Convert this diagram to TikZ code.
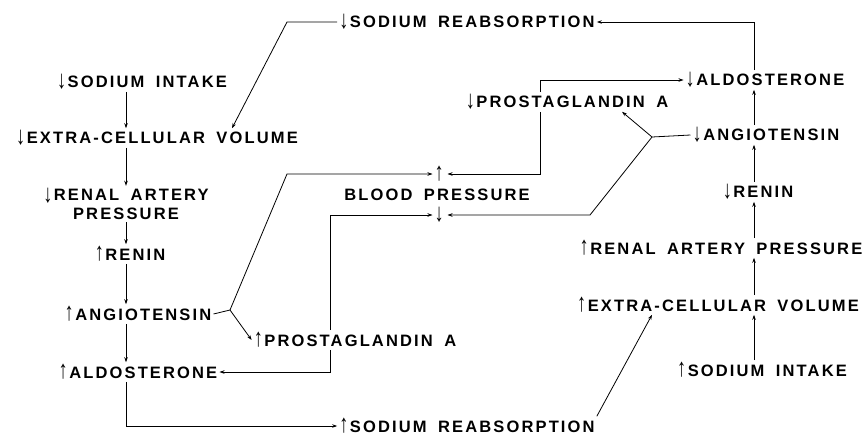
\documentclass[tikz,border=0pt]{standalone}
\usepackage{fontspec}
\usepackage{graphicx}
\setmainfont{Liberation Sans}[LetterSpace=13,WordSpace=1.7]
\usetikzlibrary{arrows.meta}
\newcommand{\upa}{\raisebox{-0.5pt}{\scalebox{1.1}[1.55]{↑}}\kern1.5pt}
\newcommand{\dna}{\raisebox{-1.5pt}{\scalebox{1.1}[1.55]{↓}}\kern1.5pt}

\begin{document}
\begin{tikzpicture}[x=1pt,y=-1pt,>={Stealth[length=5pt,width=3.5pt]},
  every node/.style={font=\bfseries\fontsize{16.5}{19}\selectfont,inner sep=2pt},
  link/.style={->,line width=0.8pt},
  wire/.style={line width=0.8pt}]
\fill[white] (0,0) rectangle (868,437);
\useasboundingbox (0,0) rectangle (868,437);
% columns and bends
\coordinate (colL) at (126,0);
\coordinate (colR) at (754,0);
\coordinate (tapL) at (330,0);
\coordinate (tapR) at (540,0);
\coordinate (hitL) at (232,0);
\coordinate (hitP) at (622,0);
\coordinate (hitE) at (652,0);
\coordinate (kneeT) at (287,22);
\coordinate (forkL) at (230,310);
\coordinate (kneeL) at (287,174);
\coordinate (forkR) at (652,137);
\coordinate (kneeR) at (590,215);

% low sodium side
\node (sodinL) at (142,82) {\dna SODIUM INTAKE};
\node (ecvL) at (157,138) {\dna EXTRA-CELLULAR VOLUME};
\node[align=center] (renalL) at (126,204) {\dna RENAL ARTERY\\PRESSURE};
\node (reninL) at (130,254) {\upa RENIN};
\node (angL) at (138,314) {\upa ANGIOTENSIN};
\node (aldoL) at (138,372) {\upa ALDOSTERONE};
\node (prostL) at (355,340) {\upa PROSTAGLANDIN A};
\node (reabsB) at (467,426) {\upa SODIUM REABSORPTION};

% middle
\node (bp) at (437,195) {BLOOD PRESSURE};
\node (bpUp) at (440,174) {\upa};
\node (bpDown) at (440,215) {\dna};

% high sodium side
\node (reabsT) at (467,22) {\dna SODIUM REABSORPTION};
\node (prostR) at (567,102) {\dna PROSTAGLANDIN A};
\node (aldoR) at (765,80) {\dna ALDOSTERONE};
\node (angR) at (766,135) {\dna ANGIOTENSIN};
\node (reninR) at (758,192) {\dna RENIN};
\node (renalR) at (721,248) {\upa RENAL ARTERY PRESSURE};
\node (ecvR) at (718,305) {\upa EXTRA-CELLULAR VOLUME};
\node (sodinR) at (762,370) {\upa SODIUM INTAKE};

% left chain
\draw[link] (sodinL.south -| colL) -- (ecvL.north -| colL);
\draw[link] (ecvL.south -| colL) -- (renalL.north -| colL);
\draw[link] (renalL.south -| colL) -- (reninL.north -| colL);
\draw[link] (reninL.south -| colL) -- (angL.north -| colL);
\draw[link] (angL.south -| colL) -- (aldoL.north -| colL);
\draw[link] (aldoL.south -| colL) |- (reabsB.west);
\draw[link] (reabsB.north east) -- (ecvR.south -| hitE);
\draw[wire] (angL.east) -- (forkL);
\draw[link] (forkL) -- (kneeL) -- (bpUp.west);
\draw[link] (forkL) -- (prostL.west);
\draw[link] (prostL.north -| tapL) |- (bpDown.west);
\draw[link] (prostL.south -| tapL) |- (aldoL.east);

% right chain
\draw[link] (sodinR.north -| colR) -- (ecvR.south -| colR);
\draw[link] (ecvR.north -| colR) -- (renalR.south -| colR);
\draw[link] (renalR.north -| colR) -- (reninR.south -| colR);
\draw[link] (reninR.north -| colR) -- (angR.south -| colR);
\draw[link] (angR.north -| colR) -- (aldoR.south -| colR);
\draw[link] (aldoR.north -| colR) |- (reabsT.east);
\draw[link] (reabsT.west) -- (kneeT) -- (ecvL.north -| hitL);
\draw[wire] (angR.west) -- (forkR);
\draw[link] (forkR) -- (prostR.south -| hitP);
\draw[link] (forkR) -- (kneeR) -- (bpDown.east);
\draw[link] (prostR.north -| tapR) |- (aldoR.west);
\draw[link] (prostR.south -| tapR) |- (bpUp.east);
\end{tikzpicture}
\end{document}
